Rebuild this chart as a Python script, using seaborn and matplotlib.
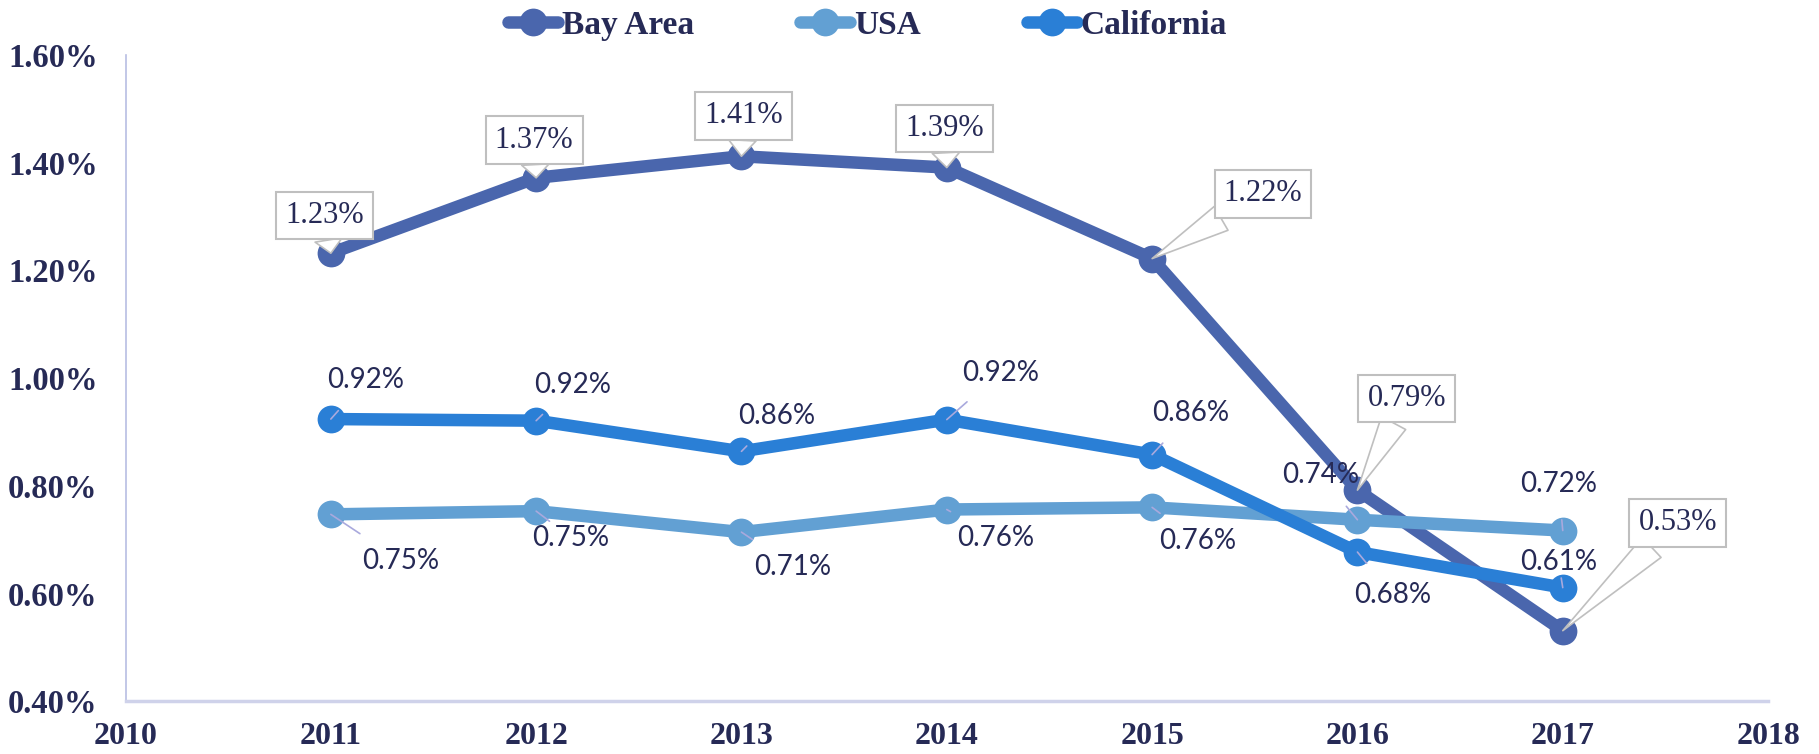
import matplotlib
matplotlib.use("Agg")
import matplotlib.pyplot as plt
import seaborn as sns
import pandas as pd

# values
years = [2011, 2012, 2013, 2014, 2015, 2016, 2017]
bay_area = [1.232, 1.372, 1.412, 1.391, 1.222, 0.792, 0.531]
usa = [0.747, 0.753, 0.714, 0.756, 0.760, 0.737, 0.717]
california = [0.924, 0.921, 0.864, 0.923, 0.858, 0.677, 0.611]
series_names = ["Bay Area", "USA", "California"]
colors = ["#4a66ad", "#62a0d3", "#2a7fd6"]
yticks = [0.4, 0.6, 0.8, 1.0, 1.2, 1.4, 1.6]
xticks = list(range(2010, 2019))

# label offsets (data units) for each point
bay_off = [(-0.03, 0.07), (-0.01, 0.07), (0.01, 0.075), (-0.01, 0.073), (0.54, 0.12), (0.24, 0.17), (0.56, 0.20)]
cal_off = [(0.17, 0.073), (0.18, 0.067), (0.17, 0.066), (0.26, 0.087), (0.19, 0.078), (0.17, -0.079), (-0.02, 0.048)]
usa_off = [(0.34, -0.086), (0.17, -0.049), (0.25, -0.064), (0.24, -0.052), (0.22, -0.063), (-0.18, 0.083), (-0.02, 0.086)]

navy = "#262a56"
df = pd.DataFrame({"year": years * 3,
                   "value": bay_area + usa + california,
                   "series": [s for s in series_names for _ in years]})

sns.set_style("white")
fig = plt.figure(figsize=(18.19, 7.54), dpi=100)
ax = fig.add_axes([0.069, 0.070, 0.903, 0.857])

for name, col in zip(series_names, colors):
    sub = df[df["series"] == name]
    sns.lineplot(data=sub, x="year", y="value", color=col, marker="o",
                 markersize=20, linewidth=9, markeredgewidth=0,
                 label=name, ax=ax, zorder=3)

ax.set_xlim(2010, 2018)
ax.set_ylim(0.4, 1.6)
ax.set_xticks(xticks)
ax.set_yticks(yticks)
ax.set_yticklabels([f"{v:.2f}%" for v in yticks])
ax.set_xlabel("")
ax.set_ylabel("")
for lab in ax.get_yticklabels():
    lab.set_fontsize(23.5)
for lab in ax.get_xticklabels():
    lab.set_fontsize(23)
for lab in ax.get_xticklabels() + ax.get_yticklabels():
    lab.set_family("Liberation Serif")
    lab.set_weight("bold")
    lab.set_color(navy)
ax.tick_params(axis="y", length=0, pad=20)
ax.tick_params(axis="x", length=0, pad=15)
for s in ["top", "right"]:
    ax.spines[s].set_visible(False)
ax.spines["left"].set_color("#b8bde3")
ax.spines["left"].set_linewidth(1.2)
ax.spines["bottom"].set_color("#cfd2ea")
ax.spines["bottom"].set_linewidth(2.5)

# Bay Area callout boxes
for x, y, (dx, dy) in zip(years, bay_area, bay_off):
    ax.annotate(f"{y:.2f}%", xy=(x, y), xytext=(x + dx, y + dy),
                ha="center", va="center", fontsize=22, color=navy,
                family="Liberation Serif", zorder=5,
                bbox=dict(boxstyle="square,pad=0.3", fc="white", ec="#bfbfbf", lw=1.5),
                arrowprops=dict(arrowstyle="wedge,tail_width=0.9", fc="white",
                                ec="#bfbfbf", lw=1.2, shrinkA=0, shrinkB=0))

# USA / California labels with thin leader lines
for vals, offs in [(california, cal_off), (usa, usa_off)]:
    for x, y, (dx, dy) in zip(years, vals, offs):
        ax.annotate(f"{y:.2f}%", xy=(x, y), xytext=(x + dx, y + dy),
                    ha="center", va="center", fontsize=20, color=navy,
                    family="Lato", zorder=4,
                    arrowprops=dict(arrowstyle="-", color="#a9a9dd", lw=1.2,
                                    shrinkA=14, shrinkB=0))

ax.get_legend().remove()
handles, labels = ax.get_legend_handles_labels()
fig.legend(handles, labels, loc="center", bbox_to_anchor=(0.477, 0.966), ncol=3,
           frameon=False, handlelength=1.5, columnspacing=3.2, handletextpad=0.1,
           prop={"family": "Liberation Serif", "weight": "bold", "size": 24},
           labelcolor=navy)

fig.savefig("out.png", dpi=100)
